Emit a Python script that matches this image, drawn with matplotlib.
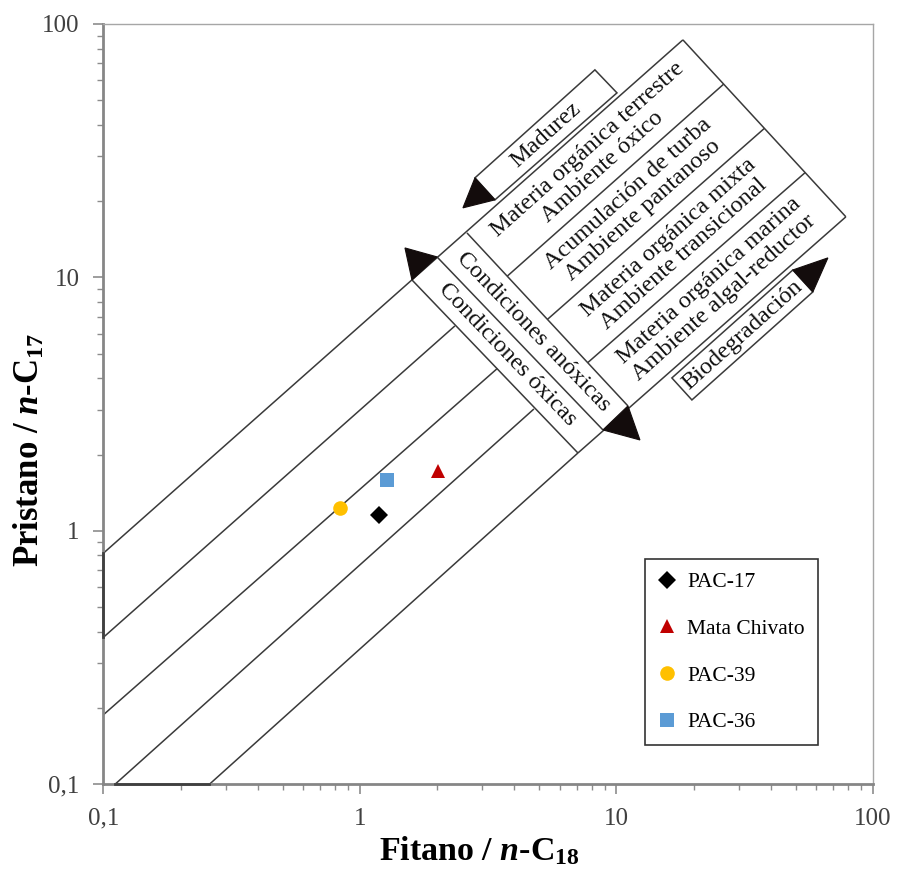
import matplotlib.pyplot as plt
from matplotlib.patches import Polygon
from matplotlib.ticker import LogLocator, FuncFormatter, NullFormatter

plt.rcParams["font.family"] = ["Liberation Serif", "DejaVu Serif"]
plt.rcParams["mathtext.fontset"] = "custom"
plt.rcParams["mathtext.rm"] = "Liberation Serif:bold"
plt.rcParams["mathtext.it"] = "Liberation Serif:italic:bold"
plt.rcParams["mathtext.bf"] = "Liberation Serif:bold"

# muestras (Fitano/n-C18, Pristano/n-C17)
samples = ["PAC-17", "Mata Chivato", "PAC-39", "PAC-36"]
fitano = [1.19, 2.02, 0.84, 1.28]
pristano = [1.16, 1.72, 1.23, 1.59]

sample_markers = ["D", "^", "o", "s"]
sample_colors = ["black", "#C00000", "#FFC000", "#5B9BD5"]
sample_sizes = [9, 10.5, 10.5, 9.5]

# lineas diagonales del diagrama (extremos en unidades de los ejes)
line_a = [(0.1, 0.816), (18.16, 86.54)]
line_b = [(0.1, 0.380), (2.347, 6.437)]
line_c = [(0.1, 0.188), (3.435, 4.374)]
line_d = [(0.111, 0.1), (4.770, 3.027)]
line_e = [(0.259, 0.1), (7.079, 2.029)]
line_end = [(7.079, 2.029), (78.42, 17.34)]
box_top_edge = [(18.16, 86.54), (78.42, 17.34)]

# franja de condiciones oxicas / anoxicas
strip_low = [(1.596, 9.774), (7.079, 2.029)]
strip_mid = [(1.998, 12.05), (8.860, 2.502)]
strip_high = [(2.615, 14.98), (11.09, 3.111)]

# divisiones entre tipos de materia organica
div_1 = [(3.752, 10.11), (26.18, 57.88)]
div_2 = [(5.384, 6.829), (37.74, 38.73)]
div_3 = [(7.727, 4.609), (54.40, 25.91)]

# tramos remarcados sobre los ejes
axis_y_seg = [(0.1, 0.380), (0.1, 0.816)]
axis_x_seg = [(0.111, 0.1), (0.259, 0.1)]

# cajas y flechas
madurez_box = [(2.809, 24.70), (8.245, 65.90), (10.05, 53.46), (3.361, 20.23)]
madurez_arrow = [(2.809, 24.70), (3.361, 20.23), (2.522, 18.81)]
biodeg_box = [(16.45, 4.012), (48.72, 10.70), (58.31, 8.767), (19.69, 3.285)]
biodeg_arrow = [(48.72, 10.70), (66.73, 11.94), (58.31, 8.767)]
cond_arrow_up = [(1.499, 13.07), (1.998, 12.05), (1.596, 9.774)]
cond_arrow_down = [(11.09, 3.111), (8.860, 2.502), (12.35, 2.284)]

# textos del diagrama: (x, y, texto, angulo)
zone_labels = [
    (8.264, 29.51, "Materia orgánica terrestre\nAmbiente óxico", 41.8),
    (11.89, 19.84, "Acumulación de turba\nAmbiente pantanoso", 41.8),
    (17.10, 13.32, "Materia orgánica mixta\nAmbiente transicional", 41.8),
    (24.58, 8.960, "Materia orgánica marina\nAmbiente algal-reductor", 41.8),
    (4.758, 6.122, "Condiciones anóxicas", -46.2),
    (3.760, 4.945, "Condiciones óxicas", -46.2),
    (5.287, 36.42, "Madurez", 42.0),
    (30.98, 5.931, "Biodegradación", 41.8),
]

x_ticks = [0.1, 1, 10, 100]
y_ticks = [0.1, 1, 10, 100]


def tick_text(v, pos):
    return "0,1" if v < 1 else "%d" % v


fig = plt.figure(figsize=(8.97, 8.74), dpi=100)
ax = fig.add_axes([0.1152, 0.1026, 0.8580, 0.8700])
ax.set_xscale("log")
ax.set_yscale("log")
ax.set_xlim(x_ticks[0], x_ticks[-1])
ax.set_ylim(y_ticks[0], y_ticks[-1])

line_kw = dict(color="#3a3a3a", lw=1.1, solid_capstyle="butt")
for seg in [line_a, line_b, line_c, line_d, line_e, line_end, box_top_edge,
            strip_low, strip_mid, strip_high, div_1, div_2, div_3]:
    ax.plot([p[0] for p in seg], [p[1] for p in seg], **line_kw)

for seg in [axis_y_seg, axis_x_seg]:
    ax.plot([p[0] for p in seg], [p[1] for p in seg], color="#404040",
            lw=2.0, clip_on=False, zorder=3)

for box in [madurez_box, biodeg_box]:
    ax.add_patch(Polygon(box, closed=True, facecolor="white",
                         edgecolor="#3a3a3a", lw=1.1, zorder=2))

for tri in [madurez_arrow, biodeg_arrow, cond_arrow_up, cond_arrow_down]:
    ax.add_patch(Polygon(tri, closed=True, facecolor="#130c0c",
                         edgecolor="#130c0c", lw=0.8, zorder=3))

for x, y, s, ang in zone_labels:
    ax.text(x, y, s, rotation=ang, rotation_mode="anchor", ha="center",
            va="center", multialignment="center", fontsize=17.5,
            linespacing=1.1, color="#111111", zorder=4)

for name, fx, py, m, c, ms in zip(samples, fitano, pristano, sample_markers,
                                  sample_colors, sample_sizes):
    ax.plot(fx, py, linestyle="none", marker=m, color=c, markersize=ms,
            markeredgewidth=0, label=name, zorder=5)

ax.set_xticks(x_ticks)
ax.set_yticks(y_ticks)
ax.xaxis.set_minor_locator(LogLocator(base=10, subs=range(2, 10)))
ax.yaxis.set_minor_locator(LogLocator(base=10, subs=range(2, 10)))
ax.xaxis.set_major_formatter(FuncFormatter(tick_text))
ax.yaxis.set_major_formatter(FuncFormatter(tick_text))
ax.xaxis.set_minor_formatter(NullFormatter())
ax.yaxis.set_minor_formatter(NullFormatter())
ax.tick_params(which="major", direction="out", length=7, width=1.2,
               color="#8c8c8c", labelsize=18, labelcolor="#404040", pad=10)
ax.tick_params(which="minor", direction="out", length=4, width=1.0,
               color="#8c8c8c")

for side in ["left", "bottom"]:
    ax.spines[side].set_color("#868686")
    ax.spines[side].set_linewidth(2.0)
for side in ["top", "right"]:
    ax.spines[side].set_color("#a6a6a6")
    ax.spines[side].set_linewidth(1.0)

ax.set_xlabel("Fitano / $\\mathit{n}$-C$_{18}$", fontsize=24.5,
              fontweight="bold")
ax.set_ylabel("Pristano / $\\mathit{n}$-C$_{17}$", fontsize=25,
              fontweight="bold")
ax.xaxis.set_label_coords(0.489, -0.066)
ax.yaxis.set_label_coords(-0.073, 0.44)

leg = ax.legend(loc="lower right", bbox_to_anchor=(0.9286, 0.0517),
                borderaxespad=0, fontsize=15.5, frameon=True, fancybox=False,
                edgecolor="black", labelspacing=1.23, borderpad=0.6,
                handlelength=0.8, handletextpad=0.55, numpoints=1)
leg.get_frame().set_linewidth(1.2)
leg.set_zorder(6)

fig.savefig("out.png", dpi=100)
